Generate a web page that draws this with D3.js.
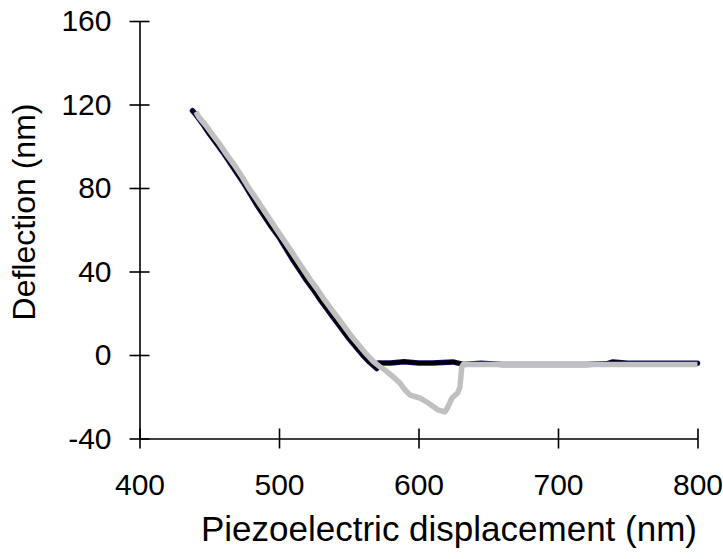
<!DOCTYPE html>
<html>
<head>
<meta charset="utf-8">
<script src="https://cdn.jsdelivr.net/npm/d3@7"></script>
<style>
  html, body { margin: 0; padding: 0; background: #fff; }
  text { font-family: "Liberation Sans", Arial, sans-serif; fill: #000; }
</style>
</head>
<body>
<div id="chart"></div>
<script>
// approach curve (dark) - piezo displacement (nm) / deflection (nm)
const approachX = [438, 440, 445, 450, 455, 460, 465, 470, 475, 480, 485, 490, 495, 500, 505, 510, 515, 520, 525, 530, 535, 540, 545, 550, 555, 560, 565, 570,
  571, 580, 589.6, 600, 610, 624.7, 632, 644.8, 660, 680, 700, 720, 735, 739.4, 750, 770, 790, 800]
const approachY = [117, 115.5, 111, 106, 101.5, 97, 92, 87, 82, 76.5, 71, 66, 61, 56.5, 51, 45.5, 40.5, 35.5, 31, 26, 21.5, 17, 12.5, 8, 4, 0, -3.5, -6.5,
  -3.8, -3.8, -3.2, -3.8, -3.8, -3.3, -4.5, -3.9, -4.5, -4.5, -4.5, -4.5, -4.2, -3.3, -4.0, -3.9, -4.0, -3.9]

// retract curve (grey)
const retractX = [440.5, 442.5, 447.5, 452.5, 457.5, 462.5, 467.5, 472.5, 477.5, 482.5, 487.5, 492.5, 497.5, 502.5, 507.5, 512.5, 517.5, 522.5, 527.5, 532.5, 537.5, 542.5, 547.5, 552.5, 557.5, 562.5, 567.5, 572,
  576, 581, 586.7, 590, 594, 601, 607, 614, 619, 621, 624, 628, 629.7, 631, 632, 650, 700, 750, 800]
const retractY = [116.5, 114, 110, 105.5, 101, 96, 91.5, 86.5, 81, 76, 71, 66, 61, 56, 51, 46, 41, 36, 31.5, 26.5, 22, 17.5, 13, 8.5, 4.5, 0.5, -3, -5.5,
  -7.2, -10, -13.4, -16.5, -19.2, -20.6, -23, -26.3, -27.3, -25, -20.6, -18.2, -15.3, -5.7, -4.6, -4.6, -4.6, -4.6, -4.6]

const xTicks = [400, 500, 600, 700, 800]
const yTicks = [-40, 0, 40, 80, 120, 160]

const width = 723, height = 559
const plotLeft = 139.5, plotRight = 697.5, plotTop = 21, plotBottom = 438.5

const svg = d3.select('#chart').append('svg')
  .attr('width', width)
  .attr('height', height)

const x = d3.scaleLinear().domain([400, 800]).range([plotLeft, plotRight])
const y = d3.scaleLinear().domain([-40, 160]).range([plotBottom, plotTop])

// axes, ticks cross the axis line
const xAxis = svg.append('g')
  .attr('transform', `translate(0,${plotBottom})`)
  .call(d3.axisBottom(x).tickValues(xTicks).tickFormat(d => String(d)).tickSize(10).tickSizeOuter(0).tickPadding(25))
xAxis.selectAll('.tick line').attr('y1', -10)

const yAxis = svg.append('g')
  .attr('transform', `translate(${plotLeft},0)`)
  .call(d3.axisLeft(y).tickValues(yTicks).tickFormat(d => String(d)).tickSize(10).tickSizeOuter(0).tickPadding(18))
yAxis.selectAll('.tick line').attr('x1', 10)

svg.selectAll('.domain, .tick line').attr('stroke', '#000').attr('stroke-width', 1.6)
svg.selectAll('.tick text').attr('font-size', 30).attr('font-family', '"Liberation Sans", Arial, sans-serif').attr('fill', '#000')

const line = d3.line().x(d => x(d[0])).y(d => y(d[1]))

const approach = approachX.map((v, i) => [v, approachY[i]])
const retract = retractX.map((v, i) => [v, retractY[i]])

// dark curve with a navy fringe
svg.append('path').attr('d', line(approach))
  .attr('fill', 'none').attr('stroke', '#10107a').attr('stroke-width', 5.5)
  .attr('stroke-linejoin', 'round').attr('stroke-linecap', 'round')
svg.append('path').attr('d', line(approach))
  .attr('fill', 'none').attr('stroke', '#000').attr('stroke-width', 4)
  .attr('stroke-linejoin', 'round').attr('stroke-linecap', 'round')

svg.append('path').attr('d', line(retract))
  .attr('fill', 'none').attr('stroke', '#c0c0c0').attr('stroke-width', 5.5)
  .attr('stroke-linejoin', 'round')

// axis titles
svg.append('text')
  .attr('x', 449)
  .attr('y', 541)
  .attr('text-anchor', 'middle')
  .attr('font-size', 35)
  .text('Piezoelectric displacement (nm)')

svg.append('text')
  .attr('transform', 'translate(35,212) rotate(-90)')
  .attr('text-anchor', 'middle')
  .attr('font-size', 32)
  .text('Deflection (nm)')
</script>
</body>
</html>
